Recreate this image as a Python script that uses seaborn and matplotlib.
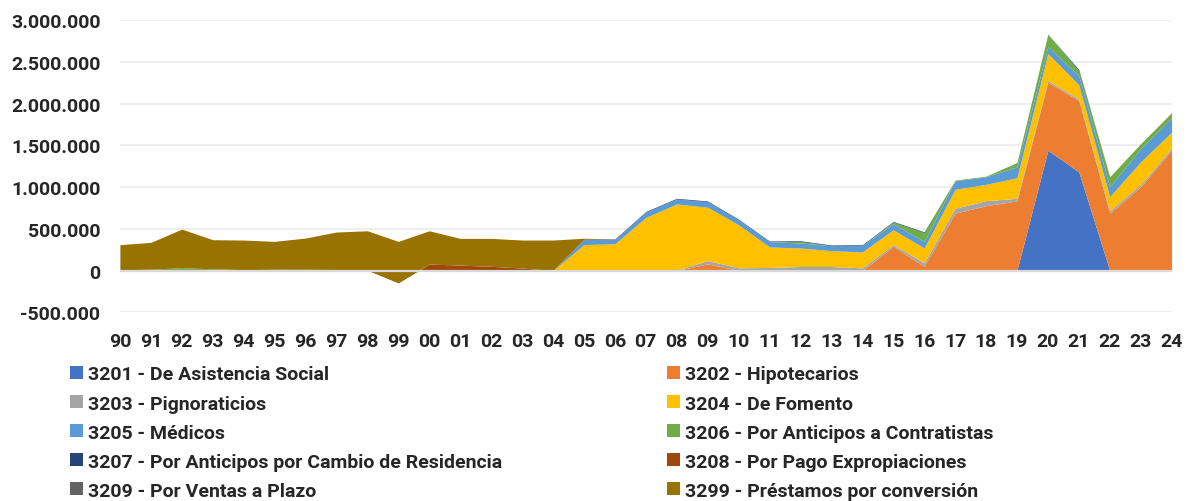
import numpy as np
import pandas as pd
import seaborn as sns
import matplotlib.pyplot as plt
from matplotlib.ticker import FuncFormatter

years = ["90", "91", "92", "93", "94", "95", "96", "97", "98", "99",
         "00", "01", "02", "03", "04", "05", "06", "07", "08", "09",
         "10", "11", "12", "13", "14", "15", "16", "17", "18", "19",
         "20", "21", "22", "23", "24"]

# values in thousands
s3201 = [0, 0, 0, 0, 0, 0, 0, 0, 0, 0,
         0, 0, 0, 0, 0, 0, 0, 0, 0, 0,
         0, 0, 0, 0, 0, 0, 0, 0, 0, 0,
         1440, 1182, 0, 0, 0]
s3202 = [0, 0, 0, 0, 0, 0, 0, 0, 0, 0,
         0, 0, 0, 0, 0, 0, 0, 0, 0, 80,
         0, 0, 0, 0, 0, 289, 51, 687, 777, 833,
         814, 854, 687, 1004, 1440]
s3203 = [0, 0, 0, 0, 0, 0, 0, 0, 0, 0,
         0, 0, 0, 0, 0, 5, 5, 5, 5, 39,
         32, 37, 48, 48, 32, 21, 41, 59, 60, 32,
         20, 20, 31, 28, 28]
s3204 = [0, 0, 0, 0, 0, 0, 0, 0, 0, 0,
         0, 0, 0, 0, 0, 305, 316, 630, 793, 639,
         516, 245, 222, 190, 191, 178, 178, 227, 195, 246,
         325, 170, 167, 269, 190]
s3205 = [0, 0, 0, 0, 0, 0, 0, 0, 0, 0,
         0, 0, 0, 0, 0, 59, 48, 64, 59, 67,
         59, 63, 60, 60, 78, 72, 79, 102, 91, 131,
         83, 107, 119, 160, 172]
s3206 = [10, 15, 35, 20, 10, 15, 15, 12, 5, 0,
         0, 0, 0, 0, 0, 0, 0, 0, 0, 0,
         0, 0, 19, 0, 0, 20, 107, 8, 8, 52,
         150, 60, 119, 59, 55]
s3207 = [0, 0, 0, 0, 0, 0, 0, 0, 0, 0,
         0, 0, 0, 0, 0, 8, 8, 8, 8, 8,
         8, 8, 8, 8, 8, 8, 8, 0, 0, 0,
         0, 15, 0, 0, 0]
s3208 = [0, 0, 0, 0, 0, 0, 0, 0, 0, -146,
         77, 65, 50, 30, 0, 0, 0, 0, 0, 0,
         0, 0, 0, 0, 0, 0, 0, 0, 0, 0,
         0, 0, 0, 0, 0]
s3209 = [0] * 35
s3299 = [300, 322, 461, 349, 355, 334, 374, 449, 471, 495,
         399, 320, 335, 335, 365, 10, 0, 0, 0, 0,
         0, 0, 0, 0, 0, 0, 0, 0, 0, 0,
         0, 0, 0, 0, 8]

labels = ["3201 - De Asistencia Social", "3202 - Hipotecarios",
          "3203 - Pignoraticios", "3204 - De Fomento",
          "3205 - Médicos", "3206 - Por Anticipos a Contratistas",
          "3207 - Por Anticipos por Cambio de Residencia", "3208 - Por Pago Expropiaciones",
          "3209 - Por Ventas a Plazo", "3299 - Préstamos por conversión"]
colors = ["#4472C4", "#ED7D31", "#A5A5A5", "#FFC000", "#5B9BD5",
          "#70AD47", "#264478", "#9E480E", "#636363", "#997300"]

df = pd.DataFrame({"year": years})
for lab, vals in zip(labels, [s3201, s3202, s3203, s3204, s3205,
                              s3206, s3207, s3208, s3209, s3299]):
    df[lab] = np.array(vals) * 1000

sns.set_theme(style="white")
plt.rcParams['font.family'] = ['Roboto', 'DejaVu Sans']
plt.rcParams['font.weight'] = 'bold'

fig = plt.figure(figsize=(11.87, 5.02), dpi=100)
ax = fig.add_axes([0.101, 0.376, 0.886, 0.582])

x = np.arange(len(years))
polys = ax.stackplot(x, [df[lab].values for lab in labels],
                     colors=colors, labels=labels, linewidth=0)

ax.axhline(0, color="#D9D9D9", lw=1.6, zorder=5)
ax.set_xlim(0, len(years) - 1)
ax.set_ylim(-500000, 3000000)
ax.set_yticks(np.arange(-500000, 3000001, 500000))
ax.yaxis.set_major_formatter(FuncFormatter(lambda v, p: f"{int(v):,}".replace(",", ".")))
ax.set_xticks(x)
ax.set_xticklabels(years)
ax.grid(axis="y", color="#EBEBEB", lw=1.2)
ax.set_axisbelow(True)
sns.despine(ax=ax, left=True, bottom=True)
ax.tick_params(axis="y", length=0, pad=14, labelsize=14)
ax.tick_params(axis="x", length=0, pad=14, labelsize=14)
for t in ax.get_xticklabels() + ax.get_yticklabels():
    t.set_fontweight("bold")

# legend laid out in two columns, row-major like the original
left_idx = [0, 2, 4, 6, 8]
right_idx = [1, 3, 5, 7, 9]
kw = dict(frameon=False, loc="upper left", handlelength=0.65,
          handleheight=0.65, handletextpad=0.25, labelspacing=0.57, borderpad=0,
          borderaxespad=0, prop={"weight": "bold", "size": 14})
leg1 = fig.legend([polys[i] for i in left_idx], [labels[i] for i in left_idx],
                  bbox_to_anchor=(0.059, 0.27), **kw)
leg2 = fig.legend([polys[i] for i in right_idx], [labels[i] for i in right_idx],
                  bbox_to_anchor=(0.562, 0.27), **kw)

fig.savefig("out.png", dpi=100)
